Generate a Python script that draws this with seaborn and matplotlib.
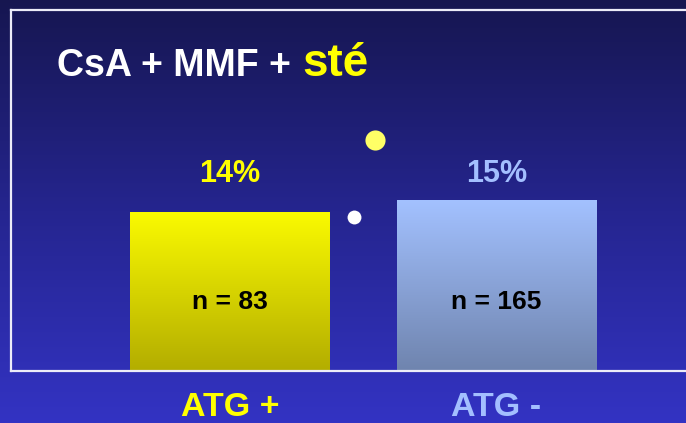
import numpy as np
import pandas as pd
import matplotlib
matplotlib.use("Agg")
import matplotlib.pyplot as plt
import seaborn as sns
from matplotlib.colors import LinearSegmentedColormap, to_rgb

# Data
groups = ["ATG +", "ATG -"]
rates = [14, 15]            # percent
counts = [83, 165]          # patients per group
group_colors = ["#ffff00", "#a3bfff"]
bar_top_colors = ["#fafa00", "#a3c1ff"]
bar_bottom_colors = ["#b3ad00", "#6f84ae"]

# Decorative bullets (axes fraction x, y, size, colour)
bullets = [(0.528, 0.640, 210, "#ffff66"), (0.498, 0.427, 100, "#ffffff")]

sns.set_theme(style="white")
plt.rcParams["font.family"] = ["Liberation Sans", "DejaVu Sans"]

W, H = 686, 423
fig = plt.figure(figsize=(W / 100, H / 100), dpi=100)

# Slide background: vertical navy-to-blue gradient
bg = fig.add_axes([0, 0, 1, 1], zorder=-10)
bg_cmap = LinearSegmentedColormap.from_list("bg", ["#161650", "#25258f", "#3333c3"])
bg.imshow(np.linspace(0, 1, 256).reshape(-1, 1), cmap=bg_cmap, aspect="auto",
          extent=[0, 1, 0, 1], origin="upper")
bg.axis("off")

# Plot frame: open on the right, spanning past the figure edge
left_px, right_px, top_px, bottom_px = 11, 700, 10, 371
ax = fig.add_axes([left_px / W, 1 - bottom_px / H,
                   (right_px - left_px) / W, (bottom_px - top_px) / H])
ax.set_facecolor("none")

df = pd.DataFrame({"group": groups, "rate": rates})
sns.barplot(data=df, x="group", y="rate", hue="group", palette=group_colors,
            width=0.75, saturation=1, legend=False, ax=ax)

# Replace the flat fills with vertical gradients
for i, patch in enumerate(ax.patches):
    x0, y0 = patch.get_x(), patch.get_y()
    w, h = patch.get_width(), patch.get_height()
    c0, c1 = np.array(to_rgb(bar_bottom_colors[i])), np.array(to_rgb(bar_top_colors[i]))
    t = np.linspace(0, 1, 256).reshape(-1, 1, 1)
    grad = c0 + (c1 - c0) * t
    ax.imshow(grad, extent=[x0, x0 + w, y0, y0 + h], origin="lower",
              aspect="auto", zorder=patch.get_zorder())
    patch.set_visible(False)

ax.set_xlim(-0.8218, 1.7636)
ax.set_ylim(0, 31.8)

for side in ["left", "top", "bottom"]:
    ax.spines[side].set_visible(True)
    ax.spines[side].set_color("#ececf8")
    ax.spines[side].set_linewidth(1.6)
ax.spines["right"].set_visible(False)

ax.set_yticks([])
ax.set_xlabel("")
ax.set_ylabel("")
ax.tick_params(axis="x", length=0, pad=15.2, labelsize=24.5)
for lbl, col in zip(ax.get_xticklabels(), group_colors):
    lbl.set_color(col)
    lbl.set_fontweight("bold")

# Value and sample-size labels
for i, (r, n) in enumerate(zip(rates, counts)):
    ax.text(i, 16.65, f"{r}%", ha="center", va="baseline", fontsize=22,
            fontweight="bold", color=group_colors[i])
    ax.text(i, 5.45, f"n = {n}", ha="center", va="baseline", fontsize=19,
            fontweight="bold", color="black")

for bx, by, bs, bc in bullets:
    ax.scatter([bx], [by], s=bs, color=bc, transform=ax.transAxes,
               clip_on=False, zorder=5, linewidths=0)

# Title
fig.text(57 / W, 1 - 76 / H, "CsA + MMF + ", fontsize=27, fontweight="bold",
         color="white", va="baseline")
fig.text(302 / W, 1 - 76 / H, "sté", fontsize=33, fontweight="bold",
         color="#ffff00", va="baseline")

fig.savefig("out.png", dpi=100)
